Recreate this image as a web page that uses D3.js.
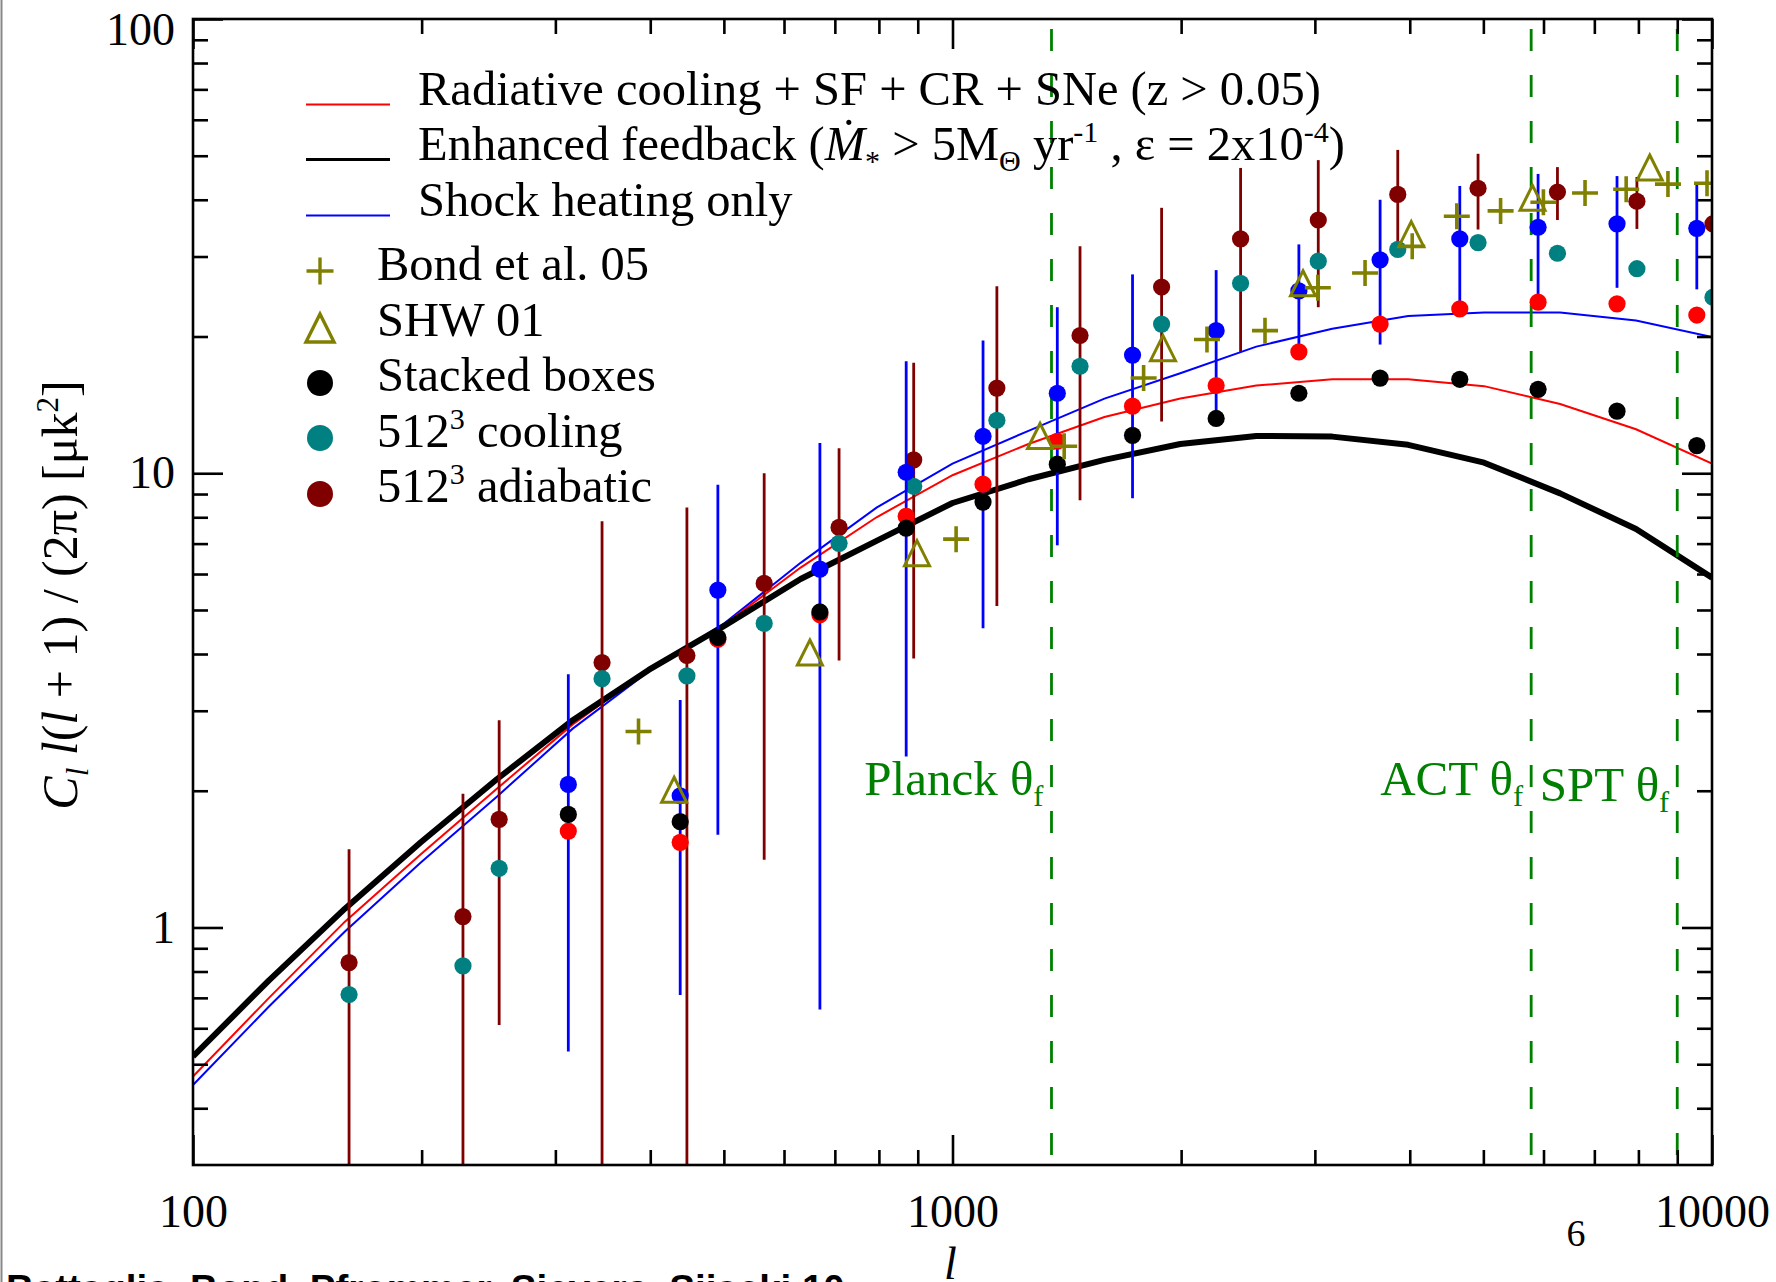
<!DOCTYPE html>
<html>
<head>
<meta charset="utf-8">
<script src="https://cdn.jsdelivr.net/npm/d3@7"></script>
<style>
body { margin: 0; background: #fff; }
text { font-family: "Liberation Serif", "Times New Roman", serif; }
</style>
</head>
<body>
<script>
// model curves, sampled every 0.1 dex in l
var lGrid = [100, 125.9, 158.5, 199.5, 251.2, 316.2, 398.1, 501.2, 631.0, 794.3, 1000, 1259, 1585, 1995, 2512, 3162, 3981, 5012, 6310, 7943, 10000];
var coolCurve  = [0.47, 0.70, 1.03, 1.45, 2.02, 2.80, 3.70, 4.65, 6.2, 8.0, 9.9, 11.6, 13.3, 14.6, 15.6, 16.1, 16.1, 15.55, 14.2, 12.5, 10.5];
var feedCurve  = [0.52, 0.765, 1.10, 1.54, 2.12, 2.86, 3.69, 4.62, 5.85, 7.1, 8.6, 9.7, 10.7, 11.6, 12.08, 12.04, 11.55, 10.55, 9.03, 7.54, 5.89];
var shockCurve = [0.45, 0.67, 0.98, 1.39, 1.94, 2.74, 3.66, 4.68, 6.35, 8.4, 10.5, 12.4, 14.6, 16.6, 19.0, 20.8, 22.2, 22.6, 22.6, 21.7, 19.95];

// stacked boxes simulations
var simL       = [312, 438, 491, 669, 869, 1097, 1374, 1726, 2224, 2858, 3656, 4655, 5902, 7498, 9550];
var stackedVal = [1.774, 1.71, 4.35, 4.95, 7.57, 8.64, 10.47, 12.12, 13.2, 15.0, 16.2, 16.1, 15.3, 13.7, 11.5];
var coolDotVal = [1.63, 1.54, 4.31, 4.88, 8.04, 9.46, 11.76, 14.05, 15.6, 18.5, 21.3, 23.0, 23.8, 23.6, 22.3];
var shockVal   = [2.065, 1.95, 5.53, 6.15, 10.05, 12.06, 15.0, 18.2, 20.6, 25.2, 29.5, 32.8, 34.8, 35.4, 34.6];
var shockLo    = [0.533, 0.71, 1.6, 0.66, 2.38, 4.56, 6.94, 8.81, 13.0, 18.0, 19.2, 22.4, 24.2, 25.6, 25.4];
var shockHi    = [3.61, 3.17, 9.43, 11.65, 17.65, 19.6, 23.2, 27.4, 28.0, 31.9, 40.0, 42.9, 45.6, 45.1, 43.3];

// 512^3 boxes
var bigL     = [160.5, 226.7, 253, 345.6, 447, 565, 709, 889, 1144, 1472, 1885, 2395, 3031, 3857, 4920, 6259, 7964, 10030];
var coolBig  = [0.712, 0.823, 1.35, 3.53, 3.58, 4.67, 7.01, 9.36, 13.08, 17.2, 21.3, 26.2, 29.3, 31.1, 32.2, 30.5, 28.2, 24.4];
var adiBig   = [0.837, 1.057, 1.73, 3.83, 3.97, 5.72, 7.6, 10.7, 15.4, 20.1, 25.7, 32.8, 36.1, 41.1, 42.4, 41.6, 39.7, 35.4];
var adiLo    = [0.2, 0.2, 0.61, 0.2, 0.2, 1.41, 3.87, 3.91, 5.1, 8.72, 13.0, 18.5, 23.2, 31.0, 34.4, 36.1, 34.5, null];
var adiHi    = [1.486, 1.97, 2.86, 7.84, 8.41, 10.0, 11.35, 17.5, 25.8, 31.6, 38.4, 47.0, 48.9, 51.5, 50.5, 47.2, 44.9, null];

// observations
var bondL   = [386, 1011, 1403, 1785, 2163, 2579, 3027, 3493, 4030, 4613, 5268, 5998, 6805, 7709, 8750, 9850];
var bondVal = [2.70, 7.16, 11.47, 16.2, 19.7, 20.6, 25.6, 27.6, 31.6, 36.8, 37.8, 39.5, 41.4, 42.2, 43.3, 43.5];
var shwL    = [430, 649, 898, 1304, 1893, 2894, 4018, 5803, 8280];
var shwVal  = [2.01, 4.03, 6.67, 12.08, 18.85, 26.2, 33.6, 40.4, 47.1];

// beam scales
var beamL     = [1350, 5780, 9000];
var beamNames = ["Planck", "ACT", "SPT"];

// ticks
var xMajor = [100, 1000, 10000];
var xTickLabels = ["100", "1000", "10000"];
var xMinor = [200, 300, 400, 500, 600, 700, 800, 900, 2000, 3000, 4000, 5000, 6000, 7000, 8000, 9000];
var yMajor = [1, 10, 100];
var yTickLabels = ["1", "10", "100"];
var yMinor = [0.4, 0.5, 0.6, 0.7, 0.8, 0.9, 2, 3, 4, 5, 6, 7, 8, 9, 20, 30, 40, 50, 60, 70, 80, 90];

var w = 1776;
var h = 1282;
var pLeft = 193, pRight = 1712, pTop = 19, pBottom = 1165;

var red = "#ff0000", blue = "#0000ff", teal = "#008080", darkred = "#800000", olive = "#808000", green = "#008000";

var x = d3.scaleLog().domain([100, 10000]).range([pLeft, pRight]);
var y = d3.scaleLog().domain([0.3, 100]).range([pBottom, pTop]);

var svg = d3.select("body")
            .append("svg")
            .attr("width", w)
            .attr("height", h)
            .style("display", "block");

svg.append("rect").attr("width", w).attr("height", h).attr("fill", "#fff");

svg.append("defs").append("clipPath").attr("id", "plotclip")
   .append("rect")
   .attr("x", pLeft).attr("y", pTop)
   .attr("width", pRight - pLeft).attr("height", pBottom - pTop);

// grey page edge on the left
svg.append("line").attr("x1", 1.5).attr("x2", 1.5).attr("y1", 0).attr("y2", h)
   .style("stroke", "#888").style("stroke-width", 2);

// write text made of plain / sup / sub / italic pieces
function rich(sel, parts, size) {
    var shift = 0;
    parts.forEach(function(p) {
        var t = sel.append("tspan").text(p[0]);
        var want = 0;
        if (p[1] == "sup") { want = -0.38 * size; t.style("font-size", (size * 0.62) + "px"); }
        if (p[1] == "sub") { want = 0.22 * size; t.style("font-size", (size * 0.62) + "px"); }
        if (p[1] == "isub") { want = 0.22 * size; t.style("font-size", (size * 0.62) + "px").style("font-style", "italic"); }
        if (p[1] == "it") { t.style("font-style", "italic"); }
        if (want != shift) { t.attr("dy", want - shift); shift = want; }
    });
    return sel;
}

// ---- model curves
var curve = d3.line()
    .x(function(d) { return x(d[0]); })
    .y(function(d) { return y(d[1]); });

var plot = svg.append("g").attr("clip-path", "url(#plotclip)");

plot.append("path").datum(d3.zip(lGrid, shockCurve)).attr("d", curve)
    .style("fill", "none").style("stroke", blue).style("stroke-width", 2);
plot.append("path").datum(d3.zip(lGrid, coolCurve)).attr("d", curve)
    .style("fill", "none").style("stroke", red).style("stroke-width", 2);
plot.append("path").datum(d3.zip(lGrid, feedCurve)).attr("d", curve)
    .style("fill", "none").style("stroke", "#000").style("stroke-width", 6).style("stroke-linejoin", "round");

// ---- beam lines
plot.selectAll("line.beam")
    .data(beamL)
    .enter()
    .append("line")
    .attr("class", "beam")
    .attr("x1", function(d) { return x(d); })
    .attr("x2", function(d) { return x(d); })
    .attr("y1", pTop + 10)
    .attr("y2", pBottom)
    .style("stroke", green)
    .style("stroke-width", 2.8)
    .style("stroke-dasharray", "22,24");

// ---- error bars and dots
function errorBars(ls, lo, hi, color) {
    var rows = d3.range(ls.length).filter(function(i) { return lo[i] != null; });
    plot.append("g").selectAll("line")
        .data(rows)
        .enter()
        .append("line")
        .attr("x1", function(i) { return x(ls[i]); })
        .attr("x2", function(i) { return x(ls[i]); })
        .attr("y1", function(i) { return y(lo[i]); })
        .attr("y2", function(i) { return y(hi[i]); })
        .style("stroke", color)
        .style("stroke-width", 2.8);
}

function dots(ls, vals, color) {
    plot.append("g").selectAll("circle")
        .data(d3.zip(ls, vals))
        .enter()
        .append("circle")
        .attr("cx", function(d) { return x(d[0]); })
        .attr("cy", function(d) { return y(d[1]); })
        .attr("r", 8.6)
        .style("fill", color);
}

errorBars(bigL, adiLo, adiHi, darkred);
dots(bigL, adiBig, darkred);
dots(bigL, coolBig, teal);
errorBars(simL, shockLo, shockHi, blue);
dots(simL, shockVal, blue);
dots(simL, coolDotVal, red);
dots(simL, stackedVal, "#000");

function triPath(s) { return "M0," + (-s) + "L" + s + "," + s + "L" + (-s) + "," + s + "Z"; }
function plusPath(s) { return "M" + (-s) + ",0H" + s + "M0," + (-s) + "V" + s; }

plot.append("g").selectAll("path")
    .data(d3.zip(shwL, shwVal))
    .enter()
    .append("path")
    .attr("d", triPath(12.5))
    .attr("transform", function(d) { return "translate(" + x(d[0]) + "," + y(d[1]) + ")"; })
    .style("fill", "none").style("stroke", olive).style("stroke-width", 3);

plot.append("g").selectAll("path")
    .data(d3.zip(bondL, bondVal))
    .enter()
    .append("path")
    .attr("d", plusPath(13))
    .attr("transform", function(d) { return "translate(" + x(d[0]) + "," + y(d[1]) + ")"; })
    .style("fill", "none").style("stroke", olive).style("stroke-width", 3.6);

// ---- beam labels
var beamY = [795, 795, 801];
beamL.forEach(function(b, i) {
    var t = svg.append("text")
        .attr("x", x(b) - 8)
        .attr("y", beamY[i])
        .attr("text-anchor", "end")
        .style("font-size", "49px")
        .style("fill", green);
    rich(t, [[beamNames[i] + " \u03b8", ""], ["f", "sub"]], 49);
});

// ---- frame and axes
svg.append("rect")
   .attr("x", pLeft).attr("y", pTop)
   .attr("width", pRight - pLeft).attr("height", pBottom - pTop)
   .style("fill", "none").style("stroke", "#000").style("stroke-width", 2.6);

function styleAxis(g) {
    g.select(".domain").remove();
    g.selectAll("line").style("stroke", "#000").style("stroke-width", 2.6);
    g.selectAll("text").style("font-family", "Liberation Serif").style("font-size", "46px").style("fill", "#000");
}

svg.append("g").attr("transform", "translate(0," + pBottom + ")")
   .call(d3.axisBottom(x).tickValues(xMajor).tickSize(-30).tickPadding(29)
         .tickFormat(function(d, i) { return xTickLabels[i]; }))
   .call(styleAxis);
svg.append("g").attr("transform", "translate(0," + pBottom + ")")
   .call(d3.axisBottom(x).tickValues(xMinor).tickSize(-15).tickFormat(""))
   .call(styleAxis);
svg.append("g").attr("transform", "translate(0," + pTop + ")")
   .call(d3.axisTop(x).tickValues(xMajor).tickSize(-30).tickFormat(""))
   .call(styleAxis);
svg.append("g").attr("transform", "translate(0," + pTop + ")")
   .call(d3.axisTop(x).tickValues(xMinor).tickSize(-15).tickFormat(""))
   .call(styleAxis);

var yAxisG = svg.append("g").attr("transform", "translate(" + pLeft + ",0)")
   .call(d3.axisLeft(y).tickValues(yMajor).tickSize(-30).tickPadding(18)
         .tickFormat(function(d, i) { return yTickLabels[i]; }))
   .call(styleAxis);
yAxisG.selectAll(".tick text").filter(function(d) { return d == 100; }).attr("dy", "0.56em");
svg.append("g").attr("transform", "translate(" + pLeft + ",0)")
   .call(d3.axisLeft(y).tickValues(yMinor).tickSize(-15).tickFormat(""))
   .call(styleAxis);
svg.append("g").attr("transform", "translate(" + pRight + ",0)")
   .call(d3.axisRight(y).tickValues(yMajor).tickSize(-30).tickFormat(""))
   .call(styleAxis);
svg.append("g").attr("transform", "translate(" + pRight + ",0)")
   .call(d3.axisRight(y).tickValues(yMinor).tickSize(-15).tickFormat(""))
   .call(styleAxis);

// ---- axis titles
svg.append("text")
   .attr("x", (pLeft + pRight) / 2 - 2)
   .attr("y", 1279)
   .attr("text-anchor", "middle")
   .style("font-size", "46px")
   .style("font-style", "italic")
   .text("l");

var yTitle = svg.append("text")
   .attr("transform", "translate(77,595) rotate(-90)")
   .attr("text-anchor", "middle")
   .style("font-size", "50px");
rich(yTitle, [["C", "it"], ["l", "isub"], [" ", ""], ["l", "it"], ["(", ""], ["l", "it"],
              [" + 1) / (2\u03c0) [\u03bck", ""], ["2", "sup"], ["]", ""]], 50);

// ---- legend
var legendLines = [
    { color: red, width: 2, y: 105, parts: [["Radiative cooling + SF + CR + SNe (z > 0.05)", ""]] },
    { color: "#000", width: 3.2, y: 160, parts: [["Enhanced feedback (", ""], ["\u1e40", "it"], ["*", "sub"],
        [" > 5M", ""], ["\u0398", "sub"], [" yr", ""], ["-1", "sup"], [" , \u03b5 = 2x10", ""], ["-4", "sup"], [")", ""]] },
    { color: blue, width: 2, y: 216, parts: [["Shock heating only", ""]] }
];

legendLines.forEach(function(d) {
    svg.append("line")
       .attr("x1", 306).attr("x2", 390).attr("y1", d.y - 0.5).attr("y2", d.y - 0.5)
       .style("stroke", d.color).style("stroke-width", d.width);
    var t = svg.append("text").attr("x", 418).attr("y", d.y).style("font-size", "48.5px");
    rich(t, d.parts, 48.5);
});

var legendSyms = [
    { kind: "plus", y: 280, cy: 271, parts: [["Bond et al. 05", ""]] },
    { kind: "tri", y: 336, cy: 328, parts: [["SHW 01", ""]] },
    { kind: "dot", color: "#000", y: 391, cy: 383, parts: [["Stacked boxes", ""]] },
    { kind: "dot", color: teal, y: 447, cy: 438, parts: [["512", ""], ["3", "sup"], [" cooling", ""]] },
    { kind: "dot", color: darkred, y: 502, cy: 494, parts: [["512", ""], ["3", "sup"], [" adiabatic", ""]] }
];

legendSyms.forEach(function(d) {
    if (d.kind == "dot") {
        svg.append("circle").attr("cx", 320).attr("cy", d.cy).attr("r", 13).style("fill", d.color);
    } else {
        svg.append("path").attr("d", d.kind == "tri" ? triPath(14) : plusPath(13.5))
           .attr("transform", "translate(320," + d.cy + ")")
           .style("fill", "none").style("stroke", olive).style("stroke-width", 3.4);
    }
    var t = svg.append("text").attr("x", 377).attr("y", d.y).style("font-size", "48.5px");
    rich(t, d.parts, 48.5);
});

// ---- page furniture
svg.append("text")
   .attr("x", 1576).attr("y", 1246)
   .attr("text-anchor", "middle")
   .style("font-size", "38px")
   .text("6");

svg.append("text")
   .attr("x", 6).attr("y", 1302)
   .style("font-family", "Liberation Sans, Arial, sans-serif")
   .style("font-weight", "bold")
   .style("font-size", "38.5px")
   .text("Battaglia, Bond, Pfrommer, Sievers, Sijacki 10");
</script>
</body>
</html>
